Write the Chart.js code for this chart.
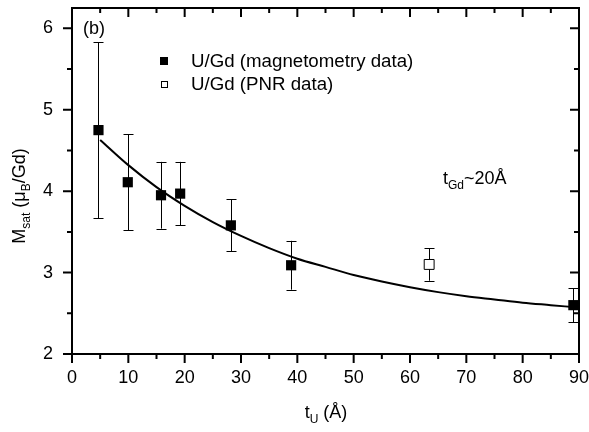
<!DOCTYPE html>
<html>
<head>
<meta charset="utf-8">
<script src="https://cdn.jsdelivr.net/npm/chart.js@4/dist/chart.umd.min.js"></script>
<style>
  html, body { margin: 0; padding: 0; background: #fff; }
  #wrap { width: 589px; height: 432px; }
</style>
</head>
<body>
<div id="wrap"><canvas id="chart" width="589" height="432"></canvas></div>
<script>
// magnetometry points
const tU = [4.7, 9.9, 15.8, 19.2, 28.2, 38.9, 89.0];
const mSat = [4.75, 4.11, 3.95, 3.97, 3.58, 3.09, 2.60];
const mSatErr = [1.08, 0.59, 0.41, 0.39, 0.32, 0.30, 0.21];

// PNR point
const pnrT = [63.4];
const pnrM = [3.10];
const pnrErr = [0.20];

// fitted curve
const fitT = [5, 10, 15, 20, 25, 30, 35, 40, 45, 50, 55, 60, 65, 70, 75, 80, 85, 90];
const fitM = [4.63, 4.32, 4.05, 3.82, 3.62, 3.45, 3.30, 3.17, 3.07, 2.97, 2.89, 2.82, 2.76, 2.71, 2.67, 2.63, 2.60, 2.57];

const xTicks = [0, 10, 20, 30, 40, 50, 60, 70, 80, 90];
const yTicks = [2, 3, 4, 5, 6];
const xMinor = [5, 15, 25, 35, 45, 55, 65, 75, 85];
const yMinor = [2.5, 3.5, 4.5, 5.5];

const FONT = "'Liberation Sans', Arial, sans-serif";

const toPts = (xs, ys) => xs.map((x, i) => ({ x: x, y: ys[i] }));

// error bars
const errorBars = {
    id: 'errorBars',
    beforeDatasetsDraw(chart) {
        const { ctx, scales: { x, y } } = chart;
        const sets = [[tU, mSat, mSatErr], [pnrT, pnrM, pnrErr]];
        ctx.save();
        ctx.strokeStyle = '#000';
        ctx.lineWidth = 1;
        sets.forEach(([xs, ys, es]) => {
            xs.forEach((v, i) => {
                const px = Math.round(x.getPixelForValue(v)) + 0.5;
                const top = y.getPixelForValue(ys[i] + es[i]);
                const bot = y.getPixelForValue(ys[i] - es[i]);
                ctx.beginPath();
                ctx.moveTo(px, top); ctx.lineTo(px, bot);
                ctx.moveTo(px - 5, Math.round(top) + 0.5); ctx.lineTo(px + 5, Math.round(top) + 0.5);
                ctx.moveTo(px - 5, Math.round(bot) + 0.5); ctx.lineTo(px + 5, Math.round(bot) + 0.5);
                ctx.stroke();
            });
        });
        ctx.restore();
    }
};

// draws text pieces with subscripts, returns width
function richText(ctx, parts, x, y, measureOnly) {
    let cx = x;
    parts.forEach(p => {
        ctx.font = (p.sub ? '12px ' : '18px ') + FONT;
        if (!measureOnly) ctx.fillText(p.t, cx, y + (p.sub ? 5 : 0));
        cx += ctx.measureText(p.t).width;
    });
    return cx - x;
}

const frameAndText = {
    id: 'frameAndText',
    afterDraw(chart) {
        const { ctx, chartArea: a, scales: { x, y } } = chart;
        ctx.save();
        ctx.strokeStyle = '#000';
        ctx.fillStyle = '#000';
        ctx.lineWidth = 2;
        ctx.beginPath();
        ctx.rect(a.left, a.top, a.right - a.left, a.bottom - a.top);
        ctx.stroke();

        ctx.beginPath();
        const tick = (v, len, ax) => {
            if (ax === 'x') {
                const px = x.getPixelForValue(v);
                ctx.moveTo(px, a.bottom); ctx.lineTo(px, a.bottom + len);
                ctx.moveTo(px, a.top); ctx.lineTo(px, a.top + len);
            } else {
                const py = y.getPixelForValue(v);
                ctx.moveTo(a.left, py); ctx.lineTo(a.left - len, py);
                ctx.moveTo(a.right, py); ctx.lineTo(a.right - len, py);
            }
        };
        xTicks.forEach(v => tick(v, 9, 'x'));
        xMinor.forEach(v => tick(v, 5, 'x'));
        yTicks.forEach(v => tick(v, 9, 'y'));
        yMinor.forEach(v => tick(v, 5, 'y'));
        ctx.stroke();

        // legend
        ctx.fillRect(160, 57, 8, 8);
        ctx.lineWidth = 1;
        ctx.strokeRect(161.5, 81.5, 6, 6);
        ctx.textBaseline = 'alphabetic';
        ctx.textAlign = 'left';
        ctx.font = '18.7px ' + FONT;
        ctx.fillText('U/Gd (magnetometry data)', 191, 67);
        ctx.fillText('U/Gd (PNR data)', 191, 90);

        ctx.font = '18px ' + FONT;
        ctx.fillText('(b)', 83, 34);

        richText(ctx, [{ t: 't' }, { t: 'Gd', sub: true }, { t: '~20Å' }], 443, 184);

        // x title
        const xParts = [{ t: 't' }, { t: 'U', sub: true }, { t: ' (Å)' }];
        const xw = richText(ctx, xParts, 0, 0, true);
        richText(ctx, xParts, 326 - xw / 2, 418);

        // y title
        const yParts = [{ t: 'M' }, { t: 'sat', sub: true }, { t: ' (μ' }, { t: 'B', sub: true }, { t: '/Gd)' }];
        const yw = richText(ctx, yParts, 0, 0, true);
        ctx.translate(25, 196);
        ctx.rotate(-Math.PI / 2);
        richText(ctx, yParts, -yw / 2, 0);
        ctx.restore();
    }
};

new Chart(document.getElementById('chart'), {
    type: 'scatter',
    data: {
        datasets: [
            {
                label: 'fit',
                data: toPts(fitT, fitM),
                showLine: true,
                borderColor: '#000',
                borderWidth: 2,
                pointRadius: 0,
                cubicInterpolationMode: 'monotone',
                clip: false
            },
            {
                label: 'U/Gd (magnetometry data)',
                data: toPts(tU, mSat),
                pointStyle: 'rect',
                pointRadius: 7.2,
                backgroundColor: '#000',
                borderColor: '#000',
                borderWidth: 0,
                clip: false
            },
            {
                label: 'U/Gd (PNR data)',
                data: toPts(pnrT, pnrM),
                pointStyle: 'rect',
                pointRadius: 7,
                backgroundColor: '#fff',
                borderColor: '#000',
                borderWidth: 1,
                clip: false
            }
        ]
    },
    options: {
        responsive: false,
        animation: false,
        layout: { autoPadding: false, padding: { top: 8, right: 10, left: 0, bottom: 0 } },
        plugins: {
            legend: { display: false },
            tooltip: { enabled: false }
        },
        scales: {
            x: {
                type: 'linear',
                min: 0,
                max: 90,
                afterBuildTicks: s => { s.ticks = xTicks.map(v => ({ value: v })); },
                afterFit: s => { s.height = 78; s.paddingLeft = 0; s.paddingRight = 0; },
                grid: { display: false, drawTicks: false },
                border: { display: false },
                ticks: { color: '#000', padding: 13, font: { family: FONT, size: 18 }, maxRotation: 0, autoSkip: false }
            },
            y: {
                type: 'linear',
                min: 2,
                max: 6.25,
                afterBuildTicks: s => { s.ticks = yTicks.map(v => ({ value: v })); },
                afterFit: s => { s.width = 72; s.paddingTop = 0; s.paddingBottom = 0; },
                grid: { display: false, drawTicks: false },
                border: { display: false },
                ticks: { color: '#000', padding: 19, font: { family: FONT, size: 18 } }
            }
        }
    },
    plugins: [errorBars, frameAndText]
});
</script>
</body>
</html>
